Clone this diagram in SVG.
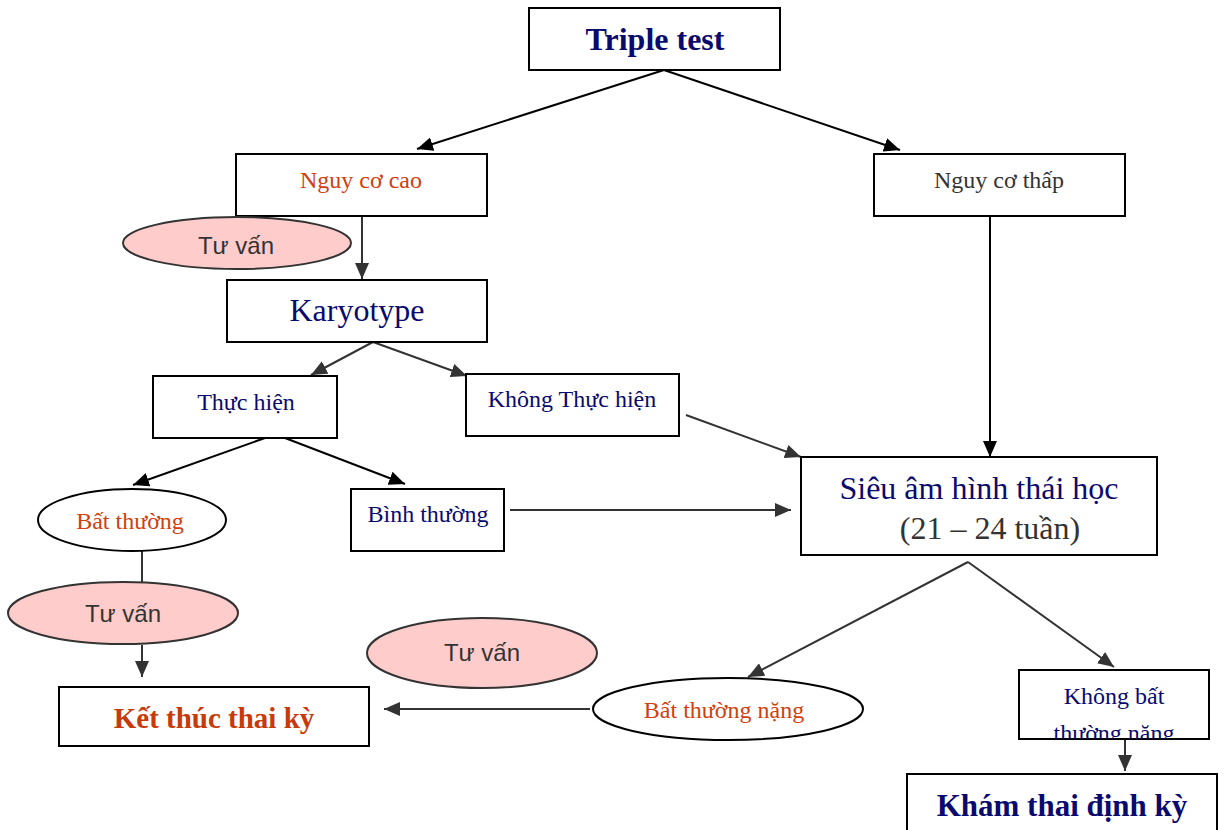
<svg xmlns="http://www.w3.org/2000/svg" width="1225" height="830" viewBox="0 0 1225 830">
<style>
.box{fill:#fff;stroke:#000;stroke-width:2}
.ell{fill:#fff;stroke:#000;stroke-width:2}
.pink{fill:#ffcccc;stroke:#333;stroke-width:2}
.t{font-family:"Liberation Serif","Times New Roman",serif;text-anchor:middle}
.s{font-family:"Liberation Sans",Arial,sans-serif;text-anchor:middle;font-size:24px;fill:#333}
.navy{fill:#0a0a6e}
.red{fill:#d0400f}
.grey{fill:#333}
.big{font-size:32px}
.mid{font-size:24px}
.b{font-weight:bold}
.c{fill:none;stroke:#333;stroke-width:2}
.ck{fill:none;stroke:#000;stroke-width:2}
</style>
<defs>
<marker id="a" markerUnits="userSpaceOnUse" markerWidth="18" markerHeight="14" refX="16" refY="7" orient="auto"><path d="M0,0L16,7L0,14Z" fill="#333"/></marker>
<marker id="ak" markerUnits="userSpaceOnUse" markerWidth="18" markerHeight="14" refX="16" refY="7" orient="auto"><path d="M0,0L16,7L0,14Z" fill="#000"/></marker>
<clipPath id="cp"><rect x="1019" y="670" width="190" height="69"/></clipPath>
</defs>
<g id="connectors">
<path class="ck" d="M664,70L417,149" marker-end="url(#ak)"/>
<path class="ck" d="M664,70L900,150" marker-end="url(#ak)"/>
<path class="c" d="M362,216L362,279" marker-end="url(#a)"/>
<path class="c" d="M373,342L311,375" marker-end="url(#a)"/>
<path class="c" d="M373,342L467,376" marker-end="url(#a)"/>
<path class="c" d="M686,415L801,457" marker-end="url(#a)"/>
<path class="ck" d="M990,216L990,457" marker-end="url(#ak)"/>
<path class="ck" d="M265,438L133,485" marker-end="url(#ak)"/>
<path class="ck" d="M285,438L405,484" marker-end="url(#ak)"/>
<path class="c" d="M510,510L791,510" marker-end="url(#a)"/>
<path class="c" d="M142,551L142,582"/>
<path class="c" d="M142,645L142,677" marker-end="url(#a)"/>
<path class="c" d="M590,709L384,709" marker-end="url(#a)"/>
<path class="c" d="M968,562L748,677" marker-end="url(#a)"/>
<path class="c" d="M968,562L1114,667" marker-end="url(#a)"/>
<path class="c" d="M1125,739L1125,771" marker-end="url(#a)"/>
</g>
<g id="triple"><rect class="box" x="529" y="8" width="251" height="62"/><text class="t navy big b" x="655" y="50">Triple test</text></g>
<g id="nguycocao"><rect class="box" x="236" y="154" width="251" height="62"/><text class="t red mid" x="361" y="188">Nguy cơ cao</text></g>
<g id="nguycothap"><rect class="box" x="874" y="154" width="251" height="62"/><text class="t grey mid" x="999" y="188">Nguy cơ thấp</text></g>
<g id="tuvan1"><ellipse class="pink" cx="237" cy="243" rx="114" ry="26"/><text class="s" x="236" y="254">Tư vấn</text></g>
<g id="karyotype"><rect class="box" x="227" y="280" width="260" height="62"/><text class="t navy big" x="357" y="321">Karyotype</text></g>
<g id="thuchien"><rect class="box" x="153" y="376" width="184" height="62"/><text class="t navy mid" x="246" y="410">Thực hiện</text></g>
<g id="khongthuchien"><rect class="box" x="466" y="374" width="213" height="62"/><text class="t navy mid" x="572" y="407">Không Thực hiện</text></g>
<g id="sieuam"><rect class="box" x="801" y="457" width="356" height="98"/><text class="t navy big" x="979" y="499">Siêu âm hình thái học</text><text class="t grey big" x="990" y="539">(21 – 24 tuần)</text></g>
<g id="batthuong"><ellipse class="ell" cx="132" cy="520" rx="94" ry="31"/><text class="t red mid" x="130" y="529">Bất thường</text></g>
<g id="binhthuong"><rect class="box" x="351" y="489" width="153" height="62"/><text class="t navy mid" x="428" y="522">Bình thường</text></g>
<g id="tuvan2"><ellipse class="pink" cx="123" cy="613" rx="115" ry="31"/><text class="s" x="123" y="622">Tư vấn</text></g>
<g id="ketthuc"><rect class="box" x="59" y="687" width="310" height="59"/><text class="t b" x="214" y="728" fill="#c63a0c" font-size="29">Kết thúc thai kỳ</text></g>
<g id="tuvan3"><ellipse class="pink" cx="482" cy="653" rx="115" ry="35"/><text class="s" x="482" y="661">Tư vấn</text></g>
<g id="batthuongnang"><ellipse class="ell" cx="728" cy="709" rx="135" ry="31"/><text class="t red mid" x="724" y="718">Bất thường nặng</text></g>
<g id="khongbatthuongnang"><rect class="box" x="1019" y="670" width="190" height="69"/><g clip-path="url(#cp)"><text class="t navy mid" x="1114" y="704">Không bất</text><text class="t navy mid" x="1114" y="741">thường nặng</text></g></g>
<g id="khamthai"><rect class="box" x="907" y="774" width="310" height="62"/><text class="t navy b" x="1062" y="816" font-size="31">Khám thai định kỳ</text></g>
</svg>
